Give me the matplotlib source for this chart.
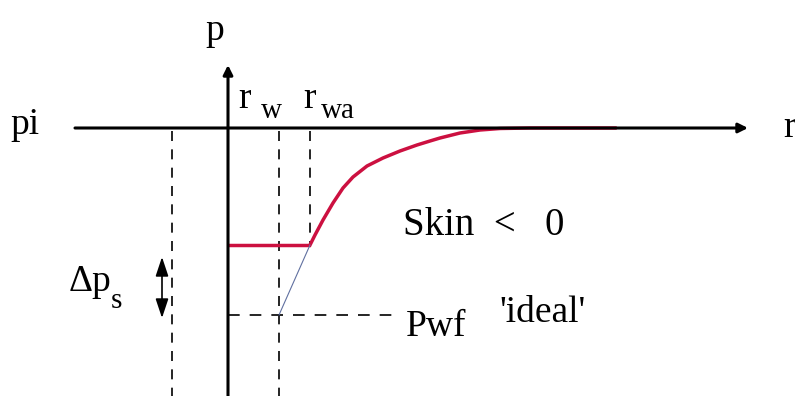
import matplotlib
matplotlib.use('Agg')
import matplotlib.pyplot as plt

# схема: давление p вокруг скважины в зависимости от r (скин < 0)
# координаты схемы: r вправо, p вниз от линии pi
r_axis = [75, 748]          # горизонтальная ось r (линия pi)
p_axis = [396, 65]          # вертикальная ось p
p_i = 128                   # начальное давление pi
r_well = 228                # стенка скважины (ось p)
r_w = 279
r_wa = 310
r_left = 172                # левая пунктирная линия
p_wf_real = 245             # реальное забойное давление
p_wf_ideal = 315            # 'ideal' Pwf

# профиль давления после r_wa
r_curve = [310, 315, 323, 333, 343, 353, 367, 383, 400, 417, 430,
           440, 460, 480, 500, 530, 570, 615]
p_curve = [245, 235, 220, 203, 188, 177, 166, 158, 151, 145, 141,
           138, 133, 130, 128.5, 128, 128, 128]

plt.rcParams['font.family'] = ['Liberation Serif', 'DejaVu Serif']

fig = plt.figure(figsize=(7.95, 3.96), dpi=100)
ax = fig.add_axes([0, 0, 1, 1])
ax.set_xlim(0, 795)
ax.set_ylim(396, 0)
ax.axis('off')

# оси со стрелками
ax.annotate('', xy=(r_axis[1], p_i), xytext=(r_axis[0], p_i),
            arrowprops=dict(arrowstyle='-|>', lw=2.2, color='black',
                            mutation_scale=14, shrinkA=0, shrinkB=0))
ax.annotate('', xy=(r_well, p_axis[1]), xytext=(r_well, p_axis[0]),
            arrowprops=dict(arrowstyle='-|>', lw=2.2, color='black',
                            mutation_scale=14, shrinkA=0, shrinkB=0))

# пунктирные линии
dash = dict(color='black', lw=1.2, ls=(0, (6, 5)))
ax.plot([r_left, r_left], [p_i + 3, 396], **dash)
ax.plot([r_w, r_w], [p_i + 3, 396], **dash)
ax.plot([r_wa, r_wa], [p_i + 3, p_wf_real], **dash)
ax.plot([r_well, 400], [p_wf_ideal, p_wf_ideal], color='black', lw=1.2, ls=(0, (7, 6)))

# реальный профиль давления
ax.plot([r_well, r_wa], [p_wf_real, p_wf_real], color='#cc1040', lw=2.5,
        solid_capstyle='butt')
ax.plot(r_curve, p_curve, color='#cc1040', lw=2.5, solid_joinstyle='round')
# продолжение до 'идеального' давления
ax.plot([r_wa, r_w], [p_wf_real, p_wf_ideal], color='#6070a0', lw=0.8)

# двойная стрелка Δp_s
ax.annotate('', xy=(162, 257), xytext=(162, 318),
            arrowprops=dict(arrowstyle='<|-|>,head_length=0.9,head_width=0.3',
                            lw=1.2, color='black',
                            mutation_scale=13, shrinkA=0, shrinkB=0))

fs = 27
ax.text(215, 40, 'p', fontsize=fs, ha='center', va='baseline')
ax.text(10, 134, 'pi', fontsize=fs, ha='left', va='baseline')
ax.text(783, 137, 'r', fontsize=fs, ha='left', va='baseline')
ax.text(238, 108, 'r', fontsize=fs, ha='left', va='baseline')
ax.text(261, 118, 'w', fontsize=21, ha='left', va='baseline')
ax.text(303, 108, 'r', fontsize=fs, ha='left', va='baseline')
ax.text(321, 118, 'wa', fontsize=21, ha='left', va='baseline')
ax.text(403, 235, 'Skin  <   0', fontsize=28, ha='left', va='baseline')
ax.text(69, 291, 'Δp', fontsize=fs, ha='left', va='baseline')
ax.text(111, 308, 's', fontsize=21, ha='left', va='baseline')
ax.text(406, 336, 'Pwf', fontsize=fs, ha='left', va='baseline')
ax.text(499, 322, "'ideal'", fontsize=fs, ha='left', va='baseline')

fig.savefig('out.png', dpi=100)
